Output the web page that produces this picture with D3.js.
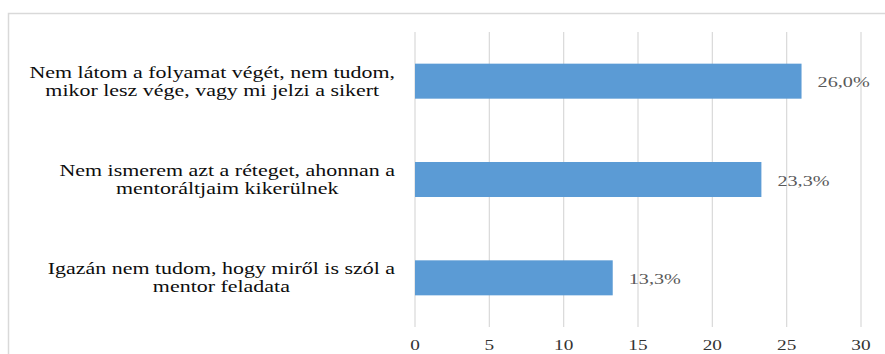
<!DOCTYPE html>
<html>
<head>
<meta charset="utf-8">
<script src="https://cdn.jsdelivr.net/npm/d3@7"></script>
<style>
  html, body { margin: 0; padding: 0; background: #fff; }
  svg { display: block; }
  text { font-family: "Liberation Serif", "Times New Roman", serif; }
</style>
</head>
<body>
<script>
// Survey answers (two lines per category label) and their shares in percent
const categories = [
  ["Nem látom a folyamat végét, nem tudom,", "mikor lesz vége, vagy mi jelzi a sikert"],
  ["Nem ismerem azt a réteget, ahonnan a", "mentoráltjaim kikerülnek"],
  ["Igazán nem tudom, hogy miről is szól a", "mentor feladata"]
];
const values = [26.0, 23.3, 13.3];
const valueLabels = ["26,0%", "23,3%", "13,3%"];
const xTicks = [0, 5, 10, 15, 20, 25, 30];

const W = 885, H = 354;
const stretch = 1.33; // horizontal widening of the serif type

const svg = d3.select("body").append("svg")
  .attr("width", W).attr("height", H);

// chart frame
svg.append("rect")
  .attr("x", 8.5).attr("y", 13.5)
  .attr("width", W + 10).attr("height", H + 10)
  .attr("fill", "none").attr("stroke", "#d9d9d9").attr("stroke-width", 1.5);

const x = d3.scaleLinear().domain([0, 30]).range([415, 861]);
const y = d3.scaleBand().domain(d3.range(categories.length))
  .range([32, 327]).paddingInner(0.644).paddingOuter(0.322);

// vertical gridlines
svg.append("g").selectAll("line").data(xTicks).join("line")
  .attr("x1", d => x(d)).attr("x2", d => x(d))
  .attr("y1", 32).attr("y2", 327)
  .attr("stroke", "#d9d9d9").attr("stroke-width", 1.2);

// bars
svg.append("g").selectAll("rect").data(values).join("rect")
  .attr("x", x(0))
  .attr("y", (d, i) => y(i))
  .attr("width", d => x(d) - x(0))
  .attr("height", y.bandwidth())
  .attr("fill", "#5b9bd5");

// helper: stretched text placed at (px, py)
function stretchedText(g, px, py, str, opts) {
  return g.append("text")
    .attr("transform", `translate(${px},${py}) scale(${stretch},1)`)
    .attr("text-anchor", opts.anchor || "start")
    .attr("dominant-baseline", "central")
    .attr("font-size", opts.size)
    .attr("fill", opts.fill)
    .text(str);
}

// category labels: lines centred on each other, block right-aligned
const labelG = svg.append("g");
const labelSize = 16.5;
categories.forEach((lines, i) => {
  const cy = y(i) + y.bandwidth() / 2;
  const tmp = lines.map(s => stretchedText(labelG, 0, 0, s, {size: labelSize, fill: "#000"}));
  const widths = tmp.map(t => t.node().getComputedTextLength() * stretch);
  tmp.forEach(t => t.remove());
  const maxW = d3.max(widths);
  const cx = 395 - maxW / 2;
  lines.forEach((s, k) => {
    stretchedText(labelG, cx, cy + (k - 0.5) * 18, s,
      {size: labelSize, fill: "#0d0d0d", anchor: "middle"});
  });
});

// value labels
const valG = svg.append("g");
values.forEach((v, i) => {
  stretchedText(valG, x(v) + 16, y(i) + y.bandwidth() / 2 + 1, valueLabels[i],
    {size: 15.2, fill: "#595959"});
});

// x-axis tick labels
const tickG = svg.append("g");
xTicks.forEach(t => {
  stretchedText(tickG, x(t), 345, String(t), {size: 14.5, fill: "#333", anchor: "middle"});
});
</script>
</body>
</html>
